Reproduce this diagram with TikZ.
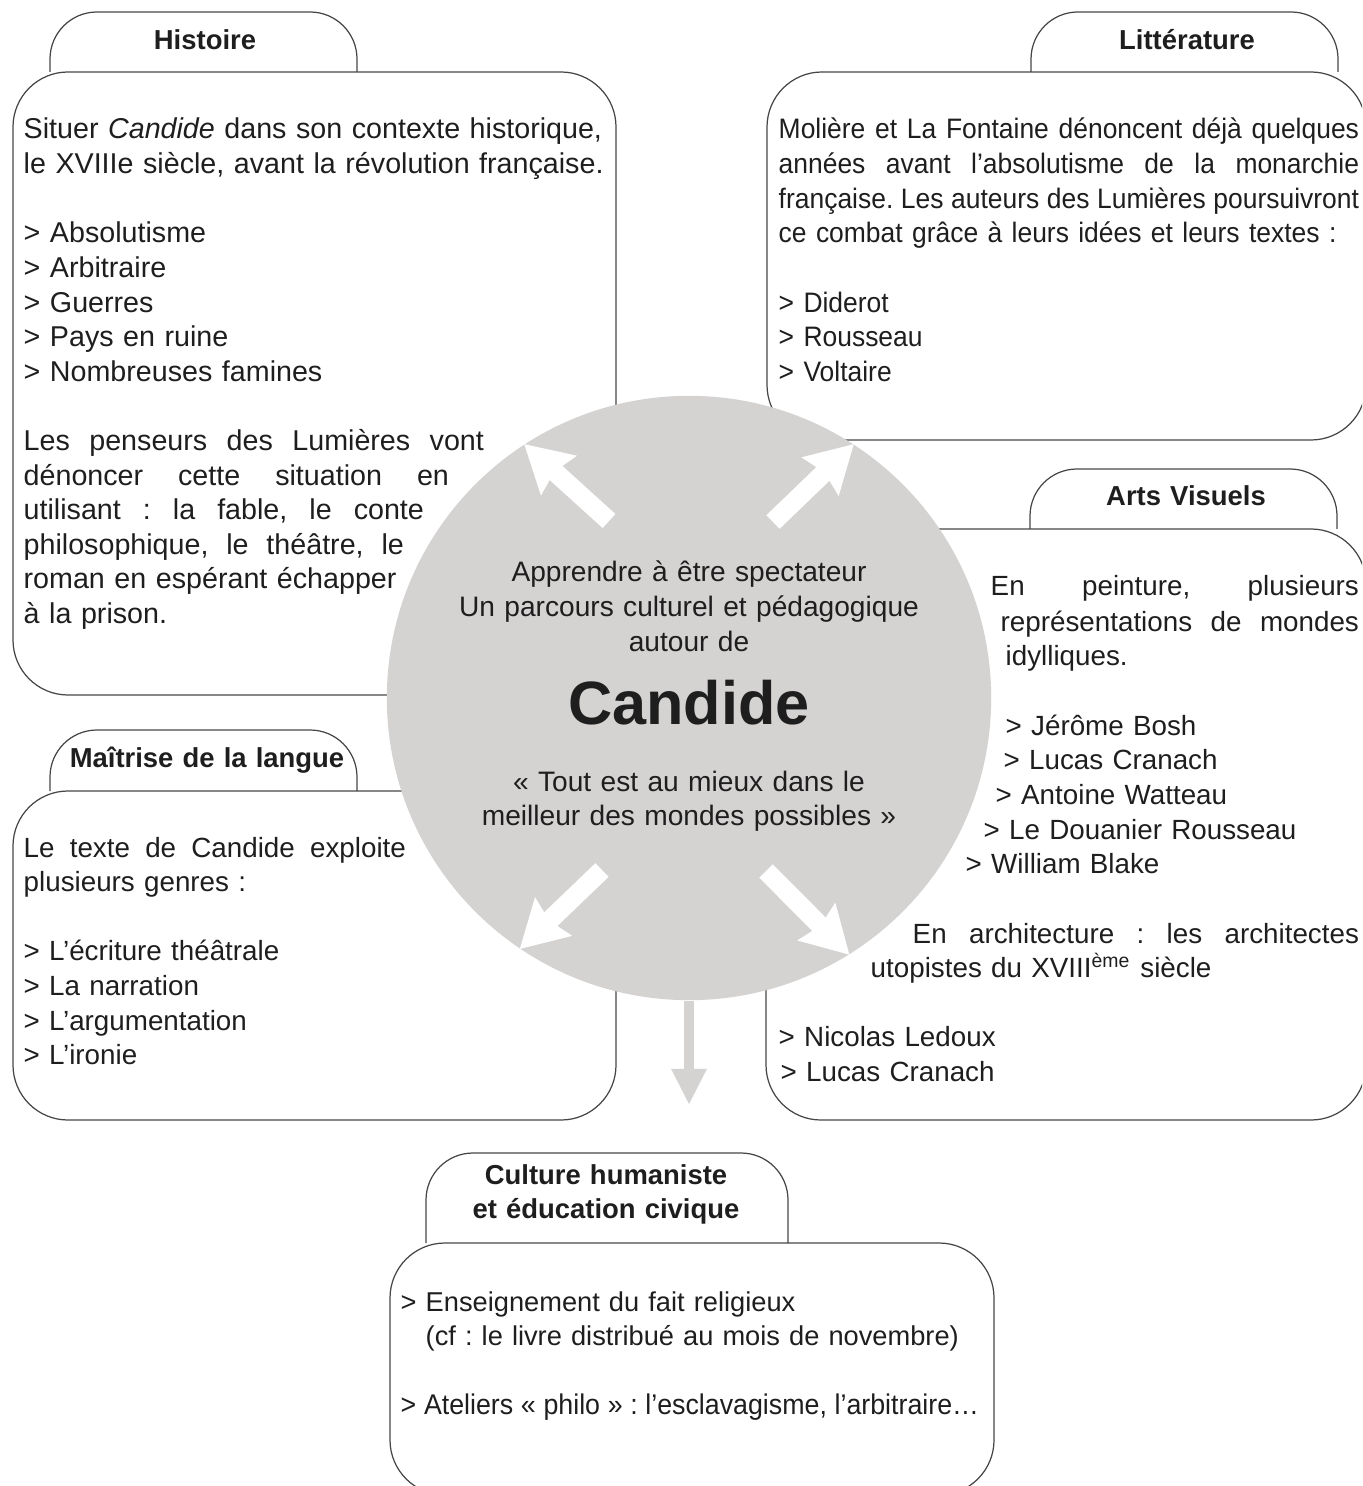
\documentclass[tikz,border=0pt]{standalone}
\usepackage{fontspec}
\setmainfont{Liberation Sans}
\newfontfamily\serre[FakeStretch=0.94]{Liberation Sans}
\usetikzlibrary{arrows.meta,calc,positioning}
\definecolor{disque}{RGB}{213,210,210}
\definecolor{trait}{RGB}{70,70,70}
\definecolor{encre}{RGB}{30,30,30}
\newcommand\justline[2]{\leavevmode\hbox to #1{\frenchspacing\spaceskip=0pt plus 1fil\relax #2}}
\newcommand\vide{\\[\baselineskip]}
\frenchspacing
\tikzset{
  onglet/.style={
    draw = trait,
    line width = 0.35pt,
    rounded corners = 0.47cm
  },
}
\tikzset{
  cadre/.style={
    draw = trait,
    line width = 0.35pt,
    rounded corners = 0.55cm
  },
}
\tikzset{
  etiquette/.style={
    font = \fontsize{7.8pt}{9.7pt}\selectfont\bfseries,
    text = encre,
    inner sep = 0pt,
    anchor = base,
    align = center,
    text width = 4cm
  },
  corps/.style={
    font = \fontsize{7.9pt}{9.84pt}\selectfont,
    text = encre,
    inner sep = 0pt,
    anchor = base west,
    text width = 7cm,
    align = left
  },
  centre/.style={
    font = \fontsize{8pt}{9.9pt}\selectfont,
    text = encre,
    inner sep = 0pt,
    anchor = base,
    text width = 6cm,
    align = center
  },
  blanche/.style={
    draw = white,
    line width = 5.4pt,
    -{Stealth[length=0.46cm, width=0.51cm, inset=0.05cm]}
  },
  grise/.style={
    draw = disque,
    line width = 2.6pt,
    -{Triangle[length=0.36cm, width=0.33cm]}
  }
}

\begin{document}
\begin{tikzpicture}[x=0.01cm, y=-0.01cm]
        \useasboundingbox (0,0) rectangle (1362,1486);
        \clip (0,0) rectangle (1362,1486);

        \draw[onglet] (50,72) -- (50,12) -- (357,12) -- (357,72);
        \draw[cadre] (13,72) rectangle (616,695);

        \draw[onglet] (1031,72) -- (1031,12) -- (1338,12) -- (1338,72);
        \draw[cadre] (767,72) rectangle (1366,440);

        \draw[onglet] (1030,529) -- (1030,469) -- (1337,469) -- (1337,529);
        \draw[cadre] (766,529) rectangle (1366,1120);

        \draw[onglet] (50,791) -- (50,730) -- (357,730) -- (357,791);
        \draw[cadre] (13,791) rectangle (616,1120);

        \draw[onglet] (426,1243) -- (426,1153) -- (788,1153) -- (788,1243);
        \draw[cadre] (390,1243) rectangle (994,1495);

        \node[circle, fill=disque, minimum size=6.04cm, inner sep=0pt] (circ) at (689,698) {};

        \coordinate (qNO) at ($(circ.center)+(-80,-177)$);
        \coordinate (qNE) at ($(circ.center)+(84,-176)$);
        \coordinate (qSO) at ($(circ.center)+(-87,172)$);
        \coordinate (qSE) at ($(circ.center)+(77,173)$);
        \coordinate (bas) at ($(circ.south)+(0,104)$);

        \draw[blanche] (qNO) -- (circ.123);
        \draw[blanche] (qNE) -- (circ.57);
        \draw[blanche] (qSO) -- (circ.-124);
        \draw[blanche] (qSE) -- (circ.-58);
        \draw[grise] (circ.south) -- (bas);

        \node[etiquette] (lab-histoire) at (205,50) {Histoire};
        \node[etiquette] (lab-litterature) at (1187,50) {Littérature};
        \node[etiquette] (lab-arts) at (1186,506) {Arts Visuels};
        \node[etiquette] (lab-langue) at (207,767) {Maîtrise de la langue};
        \node[etiquette] (lab-culture) at (606,1184) {Culture humaniste\\ et éducation civique};

        \node[corps, font=\fontsize{8.15pt}{9.84pt}\selectfont] (txt-histoire) at (23,139) {Situer \textit{Candide} dans son contexte historique,\\ le XVIIIe siècle, avant la révolution française.\vide
          > Absolutisme\\ > Arbitraire\\ > Guerres\\ > Pays en ruine\\ > Nombreuses famines\vide
          \justline{4.60cm}{Les penseurs des Lumières vont}\\
          \justline{4.25cm}{dénoncer cette situation en}\\
          \justline{4.00cm}{utilisant : la fable, le conte}\\
          \justline{3.80cm}{philosophique, le théâtre, le}\\
          roman en espérant échapper\\ à la prison.};

        \node[corps, font=\serre\fontsize{8pt}{9.84pt}\selectfont] (txt-litterature) at (778,139) {\justline{5.80cm}{Molière et La Fontaine dénoncent déjà quelques}\\
          \justline{5.80cm}{années avant l’absolutisme de la monarchie}\\
          \justline{5.80cm}{française. Les auteurs des Lumières poursuivront}\\
          ce combat grâce à leurs idées et leurs textes :\vide
          > Diderot\\ > Rousseau\\ > Voltaire};

        \node[corps] (arts-1) at (990,596) {\justline{3.68cm}{En peinture, plusieurs}};
        \node[corps] (arts-2) at (1000,631) {\justline{3.58cm}{représentations de mondes}};
        \node[corps] (arts-3) at (1005,665) {idylliques.};
        \node[corps] (arts-4) at (1005,735) {> Jérôme Bosh};
        \node[corps] (arts-5) at (1003,769) {> Lucas Cranach};
        \node[corps] (arts-6) at (995,804) {> Antoine Watteau};
        \node[corps] (arts-7) at (983,839) {> Le Douanier Rousseau};
        \node[corps] (arts-8) at (965,873) {> William Blake};
        \node[corps] (arts-9) at (912,943) {\justline{4.46cm}{En architecture : les architectes}};
        \node[corps] (arts-10) at (870,977) {utopistes du XVIII\textsuperscript{ème} siècle};
        \node[corps] (arts-11) at (778,1046) {> Nicolas Ledoux};
        \node[corps] (arts-12) at (780,1081) {> Lucas Cranach};

        \node[corps] (txt-langue) at (23,857) {\justline{3.82cm}{Le texte de Candide exploite}\\ plusieurs genres :\vide
          > L’écriture théâtrale\\ > La narration\\ > L’argumentation\\ > L’ironie};

        \node[corps, font=\fontsize{7.75pt}{9.84pt}\selectfont] (txt-culture) at (400,1311) {> Enseignement du fait religieux\\
          \hspace*{0.25cm}(cf : le livre distribué au mois de novembre)\vide
          {\serre\fontsize{8.1pt}{9.84pt}\selectfont\justline{5.78cm}{> Ateliers « philo » : l’esclavagisme, l’arbitraire…}}};

        \node[centre] (accroche) at (689,582) {Apprendre à être spectateur\\ Un parcours culturel et pédagogique\\ autour de};
        \node[centre, font=\fontsize{17.4pt}{20pt}\selectfont\bfseries] (titre) at (689,724) {Candide};
        \node[centre] (devise) at (689,791) {« Tout est au mieux dans le\\ meilleur des mondes possibles »};
\end{tikzpicture}
\end{document}
